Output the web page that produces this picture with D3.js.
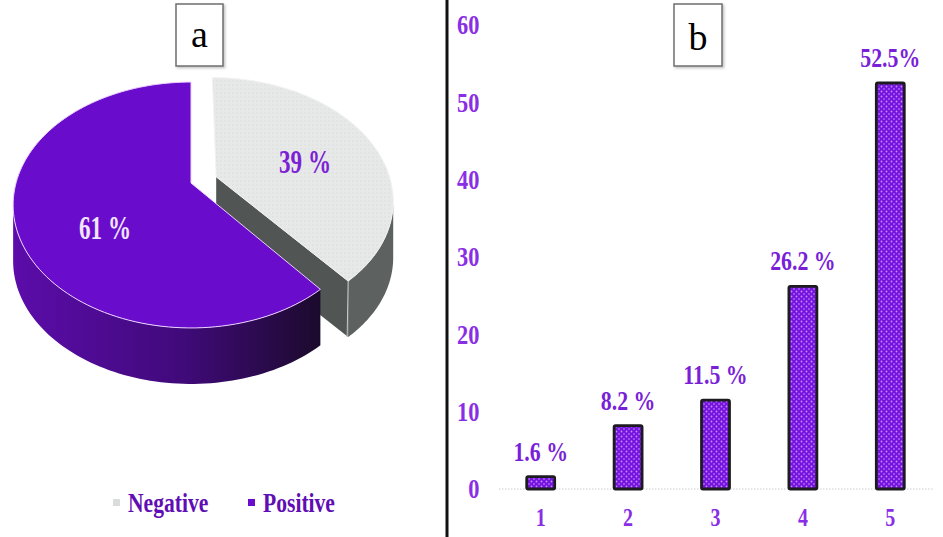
<!DOCTYPE html>
<html><head><meta charset="utf-8">
<script src="https://cdn.jsdelivr.net/npm/d3@7"></script>
<style>
html,body{margin:0;padding:0;background:#fff;}
svg{display:block;}
</style></head>
<body>
<svg id="chart" width="943" height="537"></svg>
<script>
// ---------- data ----------
const pieLabels = ["Negative", "Positive"];
const pieValues = [39, 61];
const pieTexts = ["39 %", "61 %"];

const barCategories = ["1", "2", "3", "4", "5"];
const barValues = [1.6, 8.2, 11.5, 26.2, 52.5];
const barTexts = ["1.6 %", "8.2 %", "11.5 %", "26.2 %", "52.5%"];
const yTicks = [0, 10, 20, 30, 40, 50, 60];

const panelLetters = ["a", "b"];

// ---------- setup ----------
const svg = d3.select("#chart");
const defs = svg.append("defs");
const SQ = 0.8; // horizontal squeeze of serif labels

const dotBar = defs.append("pattern").attr("id", "dotBar").attr("patternUnits", "userSpaceOnUse")
  .attr("width", 5).attr("height", 5);
dotBar.append("rect").attr("width", 5).attr("height", 5).attr("fill", "#7414dc");
dotBar.append("circle").attr("cx", 1.5).attr("cy", 1.5).attr("r", 0.9).attr("fill", "#c98bff");
dotBar.append("circle").attr("cx", 4).attr("cy", 4).attr("r", 0.9).attr("fill", "#b066fa");

const dotGray = defs.append("pattern").attr("id", "dotGray").attr("patternUnits", "userSpaceOnUse")
  .attr("width", 4).attr("height", 4);
dotGray.append("rect").attr("width", 4).attr("height", 4).attr("fill", "#e6e9e7");
dotGray.append("circle").attr("cx", 1).attr("cy", 1).attr("r", 0.7).attr("fill", "#d8dbd9");

const sideGrad = defs.append("linearGradient").attr("id", "sideGrad")
  .attr("gradientUnits", "userSpaceOnUse").attr("x1", 13).attr("x2", 322).attr("y1", 0).attr("y2", 0);
sideGrad.append("stop").attr("offset", 0).attr("stop-color", "#5c0caa");
sideGrad.append("stop").attr("offset", 0.55).attr("stop-color", "#400a7a");
sideGrad.append("stop").attr("offset", 1).attr("stop-color", "#1b0a2b");

const shadow = defs.append("filter").attr("id", "boxShadow").attr("x", "-20%").attr("y", "-20%").attr("width", "150%").attr("height", "150%");
shadow.append("feDropShadow").attr("dx", 1.5).attr("dy", 1.5).attr("stdDeviation", 1).attr("flood-color", "#999").attr("flood-opacity", 0.6);

// ---------- panel a : 3D pie ----------
const cx = 191, cy = 183, R = 175, sinT = 0.68, cosT = 0.733, D = 717, H = 56, explode = 27;
function proj(theta, r, off, drop) {
  const X = r * Math.sin(theta) + off[0];
  const Z = r * Math.cos(theta) + off[1];
  const s = D / (D + Z * cosT);
  return [cx + X * s, cy - Z * sinT * s + drop];
}
// angles (clockwise from top) where the projected outline is widest
function extremeAngle(lo, hi, off, sign) {
  let best = lo, bv = -Infinity;
  for (let t = lo; t <= hi; t += 0.002) {
    const v = sign * proj(t, R, off, 0)[0];
    if (v > bv) { bv = v; best = t; }
  }
  return best;
}
const pie = d3.pie().sort(null).value(d => d)(pieValues);
const colorsTop = ["url(#dotGray)", "#6a0ccc"];
const colorsSide = ["#5d6261", "url(#sideGrad)"];
const line = d3.line();
const gPie = svg.append("g");

// draw exploded gray slice first, then purple
[0, 1].forEach(i => {
  const a = pie[i];
  const mid = (a.startAngle + a.endAngle) / 2;
  const off = i === 0 ? [explode * Math.sin(mid), explode * Math.cos(mid)] : [0, 0];
  const g = gPie.append("g");
  // visible (front) part of the outer wall
  const rightA = extremeAngle(0, Math.PI, off, 1);
  const leftA = extremeAngle(Math.PI, 2 * Math.PI, off, -1);
  const w0 = Math.max(a.startAngle, rightA), w1 = Math.min(a.endAngle, leftA);
  if (w1 > w0) {
    const n = 80;
    const wa = d3.range(n + 1).map(k => w0 + (w1 - w0) * k / n);
    const topPts = wa.map(t => proj(t, R, off, 0));
    const botPts = wa.map(t => proj(t, R, off, H)).reverse();
    g.append("path").attr("d", line(topPts.concat(botPts)) + "Z").attr("fill", colorsSide[i]);
  }
  // cut face at end angle (visible for the exploded slice)
  if (i === 0) {
    const c0 = proj(0, 0, off, 0), c1 = proj(a.endAngle, R, off, 0);
    g.append("path").attr("d", line([c0, c1, [c1[0], c1[1] + H], [c0[0], c0[1] + H]]) + "Z")
      .attr("fill", "#515654");
    g.append("line").attr("x1", c1[0]).attr("y1", c1[1]).attr("x2", c1[0] - 1).attr("y2", c1[1] + H)
      .attr("stroke", "#c9cccb").attr("stroke-width", 1);
  }
  // top face
  const n2 = 120;
  const angs = d3.range(n2 + 1).map(k => a.startAngle + (a.endAngle - a.startAngle) * k / n2);
  const pts = [proj(0, 0, off, 0)].concat(angs.map(t => proj(t, R, off, 0)));
  g.append("path").attr("d", line(pts) + "Z").attr("fill", colorsTop[i])
    .attr("stroke", i === 0 ? "#f2f3f2" : "#ead2ff").attr("stroke-width", 1);
});

// pie labels
const pieLabelPos = [[305, 173], [105, 239]];
const pieLabelColor = ["#7d1fd6", "#f1e4ff"];
pieTexts.forEach((t, i) => {
  svg.append("g").attr("transform", `translate(${pieLabelPos[i][0]},${pieLabelPos[i][1]}) scale(0.7,1)`)
    .append("text").attr("text-anchor", "middle")
    .attr("font-family", "Liberation Serif").attr("font-size", 33)
    .attr("font-weight", "bold")
    .attr("fill", pieLabelColor[i]).text(t);
});

// legend
const legendX = [113, 248];
const legendColor = ["#d9dcdb", "#6a0ccc"];
pieLabels.forEach((lab, i) => {
  svg.append("rect").attr("x", legendX[i]).attr("y", 499).attr("width", 7).attr("height", 7).attr("fill", legendColor[i]);
  svg.append("g").attr("transform", `translate(${legendX[i] + 15},512) scale(${SQ},1)`)
    .append("text").attr("font-family", "Liberation Serif").attr("font-weight", "bold")
    .attr("font-size", 27).attr("fill", "#5f0db4").text(lab);
});

// ---------- divider ----------
svg.append("line").attr("x1", 447).attr("x2", 447).attr("y1", 0).attr("y2", 537)
  .attr("stroke", "#111").attr("stroke-width", 3);

// ---------- panel b : bars ----------
const y = d3.scaleLinear().domain([0, 60]).range([489, 25]);
const x = d3.scaleBand().domain(barCategories).range([497, 934]).paddingInner(0.68).paddingOuter(0.34);

// baseline
svg.append("line").attr("x1", 499).attr("x2", 933).attr("y1", y(0)).attr("y2", y(0))
  .attr("stroke", "#c9cfcc").attr("stroke-width", 1).attr("stroke-dasharray", "1.5,1.5");

const yAxis = svg.append("g").attr("transform", "translate(481,0)")
  .call(d3.axisLeft(y).tickValues(yTicks).tickSize(0).tickPadding(2));
yAxis.select(".domain").remove();
yAxis.selectAll("text").attr("font-family", "Liberation Serif").attr("font-weight", "bold")
  .attr("font-size", 28).attr("fill", "#8a2ee6").attr("transform", `scale(${SQ},1)`);

const xAxis = svg.append("g").attr("transform", `translate(0,${y(0)})`)
  .call(d3.axisBottom(x).tickSize(0).tickPadding(19));
xAxis.select(".domain").remove();
xAxis.selectAll("text").attr("font-family", "Liberation Serif").attr("font-weight", "bold")
  .attr("font-size", 25).attr("fill", "#8a2ee6").attr("transform", `scale(${SQ},1)`);

svg.append("g").selectAll("rect").data(barValues).join("rect")
  .attr("x", (d, i) => x(barCategories[i]))
  .attr("y", d => y(d))
  .attr("width", x.bandwidth())
  .attr("height", d => y(0) - y(d))
  .attr("rx", 1.5)
  .attr("fill", "url(#dotBar)").attr("stroke", "#1d1b20").attr("stroke-width", 2.8);

svg.append("g").selectAll("g").data(barValues).join("g")
  .attr("transform", (d, i) => `translate(${x(barCategories[i]) + x.bandwidth() / 2},${y(d) - 16}) scale(0.78,1)`)
  .append("text").attr("text-anchor", "middle")
  .attr("font-family", "Liberation Serif").attr("font-weight", "bold").attr("font-size", 28)
  .attr("fill", "#7a1fd8").text((d, i) => barTexts[i]);

// ---------- panel letters ----------
const boxes = [[176, 4, 47, 62], [674, 4, 48, 62]];
panelLetters.forEach((l, i) => {
  const b = boxes[i];
  svg.append("rect").attr("x", b[0]).attr("y", b[1]).attr("width", b[2]).attr("height", b[3])
    .attr("fill", "#fff").attr("stroke", "#6f6f6f").attr("stroke-width", 1.5).attr("filter", "url(#boxShadow)");
  svg.append("text").attr("x", b[0] + b[2] / 2).attr("y", i === 0 ? 47 : 50).attr("text-anchor", "middle")
    .attr("font-family", "Liberation Serif").attr("font-size", 38).attr("fill", "#000").text(l);
});
</script>
</body></html>
